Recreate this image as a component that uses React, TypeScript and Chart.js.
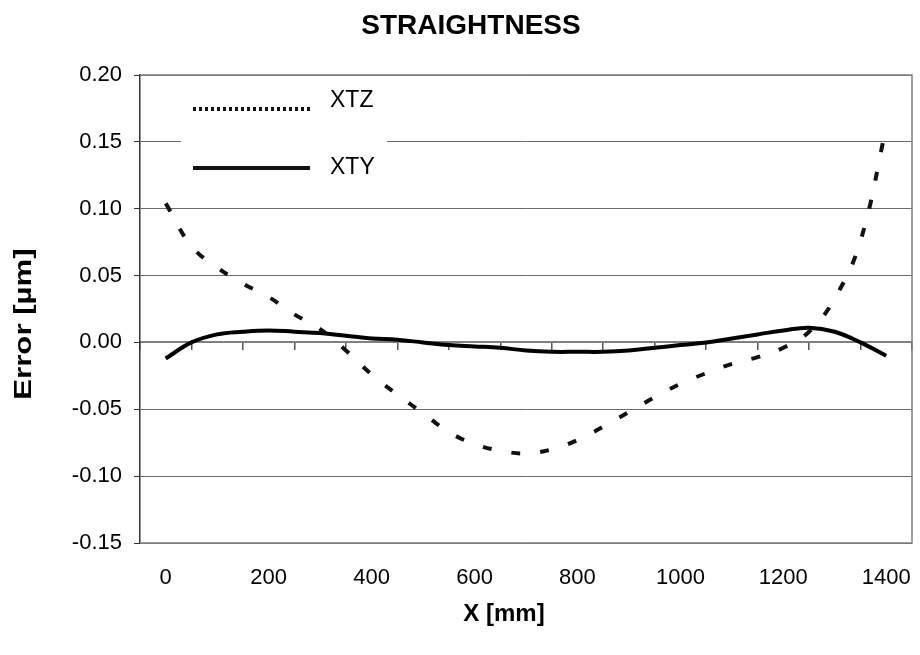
import React, { useEffect, useRef } from 'react';
import { Chart, registerables } from 'chart.js';

Chart.register(...registerables);

// ---- data ----
const xPositions = [0, 50, 100, 150, 200, 250, 300, 350, 400, 450, 500, 550, 600, 650, 700, 750, 800, 850, 900, 950, 1000, 1050, 1100, 1150, 1200, 1250, 1300, 1350, 1400];
const xtzValues = [0.104, 0.072, 0.056, 0.044, 0.034, 0.021, 0.010, -0.006, -0.024, -0.039, -0.053, -0.067, -0.076, -0.081, -0.083, -0.080, -0.073, -0.063, -0.052, -0.041, -0.031, -0.023, -0.016, -0.011, -0.004, 0.008, 0.033, 0.076, 0.161];
const xtyValues = [-0.012, 0.000, 0.006, 0.008, 0.009, 0.008, 0.007, 0.005, 0.003, 0.002, 0.000, -0.002, -0.003, -0.004, -0.006, -0.007, -0.007, -0.007, -0.006, -0.004, -0.002, 0.000, 0.003, 0.006, 0.009, 0.011, 0.008, 0.000, -0.010];
const seriesNames = ['XTZ', 'XTY'];
const xTickLabels = [0, 200, 400, 600, 800, 1000, 1200, 1400];
const zeroAxisTicks = [-50, 50, 150, 250, 350, 450, 550, 650, 750, 850, 950, 1050, 1150, 1250, 1350, 1450];
const yTicks = [-0.15, -0.10, -0.05, 0.00, 0.05, 0.10, 0.15, 0.20];
const titleText = 'STRAIGHTNESS';
const xTitle = 'X [mm]';
const yTitle = 'Error [\u00B5m]';

const FONT = '"Liberation Sans", Arial, Helvetica, sans-serif';

const framePlugin = {
  id: 'frameAndLegend',
  beforeDatasetsDraw(chart: any) {
    const { ctx, chartArea: a } = chart;
    ctx.save();
    ctx.strokeStyle = '#808080';
    ctx.lineWidth = 1.5;
    ctx.beginPath();
    ctx.moveTo(a.left, a.top);
    ctx.lineTo(a.right, a.top);
    ctx.lineTo(a.right, a.bottom);
    ctx.lineTo(a.left, a.bottom);
    ctx.stroke();
    ctx.restore();
  },
  afterDatasetsDraw(chart: any) {
    const { ctx, chartArea: a } = chart;
    ctx.save();
    // legend box
    ctx.fillStyle = '#ffffff';
    ctx.fillRect(a.left + 41, a.top + 8, 206, 112);
    ctx.strokeStyle = '#111111';
    ctx.lineWidth = 4;
    ctx.setLineDash([3, 3]);
    ctx.beginPath();
    ctx.moveTo(a.left + 53, a.top + 34);
    ctx.lineTo(a.left + 170, a.top + 34);
    ctx.stroke();
    ctx.setLineDash([]);
    ctx.beginPath();
    ctx.moveTo(a.left + 53, a.top + 93);
    ctx.lineTo(a.left + 170, a.top + 93);
    ctx.stroke();
    ctx.fillStyle = '#000000';
    ctx.font = `23px ${FONT}`;
    ctx.textBaseline = 'middle';
    ctx.textAlign = 'left';
    ctx.fillText(seriesNames[0], a.left + 190, a.top + 26);
    ctx.fillText(seriesNames[1], a.left + 190, a.top + 93);

    // chart title
    ctx.textAlign = 'center';
    ctx.font = `bold 28px ${FONT}`;
    ctx.fillText(titleText, 471, 26);
    // x title
    ctx.font = `bold 24px ${FONT}`;
    ctx.fillText(xTitle, 504, 614);
    // y title (rotated)
    ctx.translate(24, 324);
    ctx.rotate(-Math.PI / 2);
    ctx.scale(1.3, 1);
    ctx.font = `bold 24px ${FONT}`;
    ctx.fillText(yTitle, 0, 0);
    ctx.restore();
  },
};

export default function App() {
  const canvasRef = useRef<HTMLCanvasElement | null>(null);

  useEffect(() => {
    const canvas = canvasRef.current;
    if (!canvas) return;
    Chart.defaults.font.family = FONT;
    Chart.defaults.color = '#000000';
    const chart = new Chart(canvas, {
      type: 'line',
      data: {
        datasets: [
          {
            label: seriesNames[0],
            data: xPositions.map((x, i) => ({ x, y: xtzValues[i] })),
            borderColor: '#111111',
            borderWidth: 4,
            borderDash: [9, 20],
            pointRadius: 0,
            tension: 0.4,
            fill: false,
          },
          {
            label: seriesNames[1],
            data: xPositions.map((x, i) => ({ x, y: xtyValues[i] })),
            borderColor: '#000000',
            borderWidth: 4,
            pointRadius: 0,
            tension: 0.4,
            fill: false,
          },
        ],
      },
      options: {
        animation: false,
        responsive: false,
        maintainAspectRatio: false,
        layout: { padding: { top: 75, right: 8, bottom: 0, left: 0 } },
        plugins: {
          legend: { display: false },
          tooltip: { enabled: false },
          title: { display: false },
        },
        scales: {
          x: {
            type: 'linear',
            position: 'bottom',
            min: -50,
            max: 1450,
            afterBuildTicks: (scale: any) => {
              scale.ticks = xTickLabels.map((v) => ({ value: v }));
            },
            afterFit: (scale: any) => {
              scale.height = 112;
              scale.paddingLeft = 0;
              scale.paddingRight = 0;
            },
            grid: { display: false, drawTicks: false },
            border: { display: false },
            ticks: {
              padding: 22,
              maxRotation: 0,
              autoSkip: false,
              font: { size: 22, family: FONT },
              color: '#000000',
              callback: (v: any) => String(v),
            },
          },
          x0: {
            type: 'linear',
            position: { y: 0 },
            min: -50,
            max: 1450,
            afterBuildTicks: (scale: any) => {
              scale.ticks = zeroAxisTicks.map((v) => ({ value: v }));
            },
            afterFit: (scale: any) => {
              scale.paddingLeft = 0;
              scale.paddingRight = 0;
            },
            grid: { drawOnChartArea: false, drawTicks: true, tickLength: 7, color: '#555555', lineWidth: 1.5 },
            border: { display: true, color: '#808080', width: 2 },
            ticks: { display: false },
          },
          y: {
            type: 'linear',
            position: 'left',
            min: -0.15,
            max: 0.2,
            afterBuildTicks: (scale: any) => {
              scale.ticks = yTicks.map((v) => ({ value: v }));
            },
            afterFit: (scale: any) => {
              scale.width = 140;
            },
            grid: { color: '#6a6a6a', lineWidth: 1, tickLength: 6, tickColor: '#333333' },
            border: { display: true, color: '#333333', width: 1.5 },
            ticks: {
              padding: 12,
              font: { size: 22, family: FONT },
              color: '#000000',
              callback: (v: any) => Number(v).toFixed(2),
            },
          },
        },
      } as any,
      plugins: [framePlugin],
    });
    return () => {
      chart.destroy();
    };
  }, []);

  return (
    <div style={{ position: 'absolute', left: 0, top: 0, width: 920, height: 655, background: '#ffffff' }}>
      <canvas ref={canvasRef} width={920} height={655} style={{ width: 920, height: 655, display: 'block' }} />
    </div>
  );
}
